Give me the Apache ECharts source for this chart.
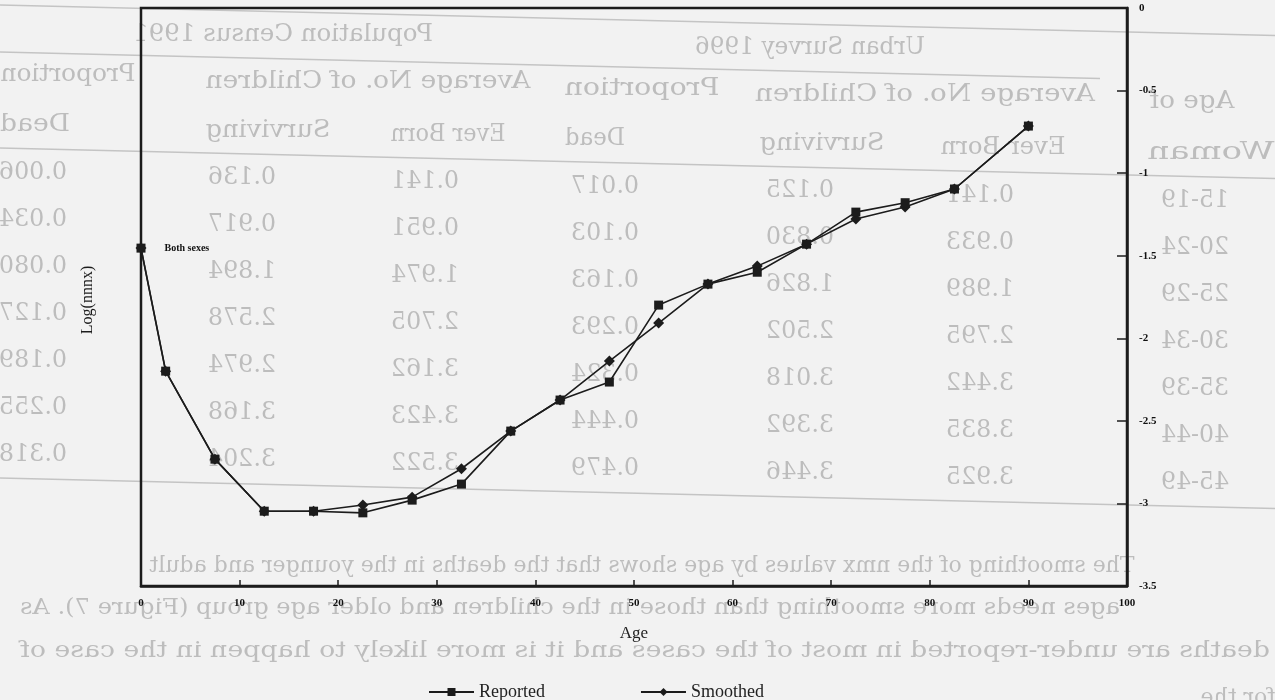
<!DOCTYPE html>
<html><head><meta charset="utf-8">
<script src="https://cdn.jsdelivr.net/npm/echarts@6/dist/echarts.min.js"></script>
<style>html,body{margin:0;padding:0;background:#f2f2f2;}#c{width:1275px;height:700px;}</style>
</head><body><div id="c"></div>
<script>
// ---- chart data ----
const ages = [0, 2.5, 7.5, 12.5, 17.5, 22.5, 27.5, 32.5, 37.5, 42.5, 47.5, 52.5, 57.5, 62.5, 67.5, 72.5, 77.5, 82.5, 90];
const reported = [-1.454, -2.199, -2.732, -3.047, -3.047, -3.057, -2.980, -2.883, -2.562, -2.374, -2.265, -1.799, -1.672, -1.600, -1.430, -1.236, -1.179, -1.096, -0.715];
const smoothed = [-1.454, -2.199, -2.732, -3.047, -3.047, -3.010, -2.962, -2.790, -2.562, -2.374, -2.138, -1.908, -1.672, -1.563, -1.430, -1.278, -1.205, -1.096, -0.715];
const seriesNames = ['Reported', 'Smoothed'];
const xAxisName = 'Age';
const yAxisName = 'Log(nnnx)';
const pointNote = 'Both sexes';

// ---- show-through text of the scanned page (mirrored) ----
const headRow1 = ['Population Census 1991', 'Urban Survey 1996'];
const headRow2 = ['Proportion', 'Average No. of Children', 'Proportion', 'Average No. of Children', 'Age of'];
const headRow3 = ['Dead', 'Surviving', 'Ever Born', 'Dead', 'Surviving', 'Ever Born', 'Woman'];
const colCensusDead = ['0.006', '0.034', '0.080', '0.127', '0.189', '0.255', '0.318'];
const colCensusSurv = ['0.136', '0.917', '1.894', '2.578', '2.974', '3.168', '3.204'];
const colCensusBorn = ['0.141', '0.951', '1.974', '2.705', '3.162', '3.423', '3.522'];
const colUrbanDead = ['0.017', '0.103', '0.163', '0.293', '0.324', '0.444', '0.479'];
const colUrbanSurv = ['0.125', '0.830', '1.826', '2.502', '3.018', '3.392', '3.446'];
const colUrbanBorn = ['0.141', '0.933', '1.989', '2.795', '3.442', '3.835', '3.925'];
const colAgeGroup = ['15-19', '20-24', '25-29', '30-34', '35-39', '40-44', '45-49'];
const paragraph = [
  'The smoothing of the nmx values by age shows that the deaths in the younger and adult',
  'ages needs more smoothing than those in the children and older age group (Figure 7). As',
  'deaths are under-reported in most of the cases and it is more likely to happen in the case of',
  'for the'
];

// layout of the show-through (positions only)
const SKEW = 0.024;
const GHOST = '#bdbdbd';
const ctx = document.createElement('canvas').getContext('2d');
function mtext(str, xc, b, size, targetW) {
  const fam = 'DejaVu Serif';
  ctx.font = size + 'px "' + fam + '"';
  const w = ctx.measureText(str).width || 1;
  const sx = targetW ? targetW / w : 1;
  return {
    type: 'text', x: xc, y: b + SKEW * xc, scaleX: -sx, z: -10, silent: true,
    style: { text: str, fontSize: size, fontFamily: fam, fill: GHOST, align: 'center', verticalAlign: 'middle' }
  };
}
function mline(b, x1, x2) {
  return { type: 'line', z: -11, silent: true,
    shape: { x1: x1, y1: b + SKEW * x1, x2: x2, y2: b + SKEW * x2 },
    style: { stroke: '#c4c4c4', lineWidth: 1.5 } };
}
const ghost = [];
[[283, 300], [810, 230]].forEach((p, i) => ghost.push(mtext(headRow1[i], p[0], 28, 24, p[1])));
[[68, 135], [368, 325], [642, 155], [925, 340], [1192, 85]].forEach((p, i) => ghost.push(mtext(headRow2[i], p[0], 73, 24, p[1])));
[[35, 70], [268, 125], [448, 115], [595, 60], [822, 125], [1003, 125], [1211, 127]].forEach((p, i) => ghost.push(mtext(headRow3[i], p[0], 124, 24, p[1])));
const rowB = [172, 219, 266, 313, 360, 407, 454];
const cols = [[colCensusDead, 33], [colCensusSurv, 242], [colCensusBorn, 425], [colUrbanDead, 605], [colUrbanSurv, 800], [colUrbanBorn, 980], [colAgeGroup, 1195]];
cols.forEach(c => c[0].forEach((s, r) => ghost.push(mtext(s, c[1], rowB[r], 24, 68))));
[[642, 551, 985], [570, 594, 1100], [645, 636, 1250], [1238, 668, 75]].forEach((p, i) => ghost.push(mtext(paragraph[i], p[0], p[1], 23, p[2])));
ghost.push(mline(5, 0, 1275), mline(52, 0, 1100), mline(148, 0, 1275), mline(478, 0, 1275));

const INK = '#1c1c1c';
const repData = ages.map((a, i) => [a, reported[i]]);
repData[0] = {
  value: [ages[0], reported[0]],
  label: { show: true, position: 'right', distance: 19, formatter: pointNote, fontSize: 10, fontWeight: 'bold',
    color: '#111', fontFamily: 'Liberation Serif' }
};
const smoData = ages.map((a, i) => [a, smoothed[i]]);

const chart = echarts.init(document.getElementById('c'), null, { renderer: 'canvas' });
chart.setOption({
  backgroundColor: '#f2f2f2',
  animation: false,
  textStyle: { fontFamily: 'Liberation Serif' },
  grid: { left: 141, top: 8, width: 986, height: 578, show: true, borderColor: INK, borderWidth: 2.5,
    backgroundColor: 'transparent', outerBoundsMode: 'none', containLabel: false },
  xAxis: {
    type: 'value', min: 0, max: 100, interval: 10,
    name: xAxisName, nameLocation: 'middle', nameGap: 39,
    nameTextStyle: { fontSize: 17, color: '#222', fontFamily: 'Liberation Serif' },
    axisLine: { show: true, onZero: false, lineStyle: { color: INK, width: 2.5 } },
    axisTick: { show: true, inside: true, length: 6, lineStyle: { color: INK, width: 1.5 } },
    axisLabel: { margin: 12, color: '#111', fontSize: 11, fontWeight: 'bold', fontFamily: 'Liberation Serif',
      showMinLabel: true, showMaxLabel: true, hideOverlap: false },
    splitLine: { show: false }
  },
  yAxis: {
    type: 'value', position: 'right', min: -3.5, max: 0, interval: 0.5,
    axisLine: { show: true, onZero: false, lineStyle: { color: INK, width: 2.5 } },
    axisTick: { show: true, inside: true, length: 10, lineStyle: { color: INK, width: 1.5 } },
    axisLabel: { margin: 12, color: '#111', fontSize: 11, fontWeight: 'bold', fontFamily: 'Liberation Serif',
      formatter: v => String(v), showMinLabel: true, showMaxLabel: true, hideOverlap: false },
    splitLine: { show: false }
  },
  legend: {
    left: 423, top: 678, itemWidth: 45, itemHeight: 10, itemGap: 95,
    textStyle: { fontSize: 18, color: '#222', fontFamily: 'Liberation Serif' },
    data: seriesNames
  },
  graphic: { elements: ghost.concat([
    { type: 'text', x: 88, y: 300, rotation: Math.PI / 2, z: 10,
      style: { text: yAxisName, fontSize: 16, fontFamily: 'Liberation Serif', fill: INK, align: 'center', verticalAlign: 'middle' } }
  ]) },
  series: [
    { name: seriesNames[0], type: 'line', data: repData, symbol: 'rect', symbolSize: 9,
      lineStyle: { color: INK, width: 1.6 }, itemStyle: { color: INK }, emphasis: { disabled: true }, z: 4 },
    { name: seriesNames[1], type: 'line', data: smoData, symbol: 'diamond', symbolSize: 11,
      lineStyle: { color: INK, width: 1.6 }, itemStyle: { color: INK }, emphasis: { disabled: true }, z: 3 }
  ]
});
</script></body></html>
